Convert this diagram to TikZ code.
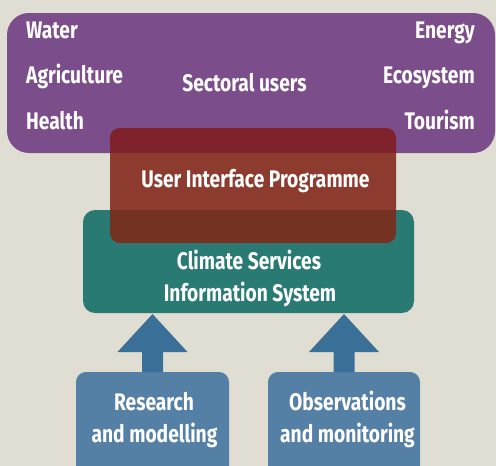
\documentclass[tikz,border=0pt]{standalone}
\usepackage{fontspec}
\setmainfont{Fira Sans}[FakeStretch=0.80]
\usetikzlibrary{calc}
\definecolor{bgc}{HTML}{E0DED3}
\definecolor{purplec}{HTML}{7B4D8A}
\definecolor{redc}{HTML}{8C3B2E}
\definecolor{redtopc}{HTML}{80222C}
\definecolor{redbotc}{HTML}{743222}
\definecolor{tealc}{HTML}{2A7A74}
\definecolor{arrowc}{HTML}{3A6F97}
\definecolor{srcc}{HTML}{5580A6}
\tikzset{
  shapebox/.style={rectangle, draw=none, inner sep=0pt, outer sep=0pt},
  lbl/.style={text=white, inner sep=0pt, font=\bfseries\fontsize{24}{28}\selectfont},
  fatarrow/.style={fill=arrowc, draw=none}
}
\begin{document}
\begin{tikzpicture}[x=1pt,y=-1pt]
\useasboundingbox (0,0) rectangle (496,466);
\clip (0,0) rectangle (496,466);
\fill[bgc] (0,0) rectangle (496,466);

% sectoral users
\node[shapebox, fill=purplec, rounded corners=22pt, minimum width=488pt, minimum height=140pt] (users) at (251,83) {};
% climate services information system
\node[shapebox, fill=tealc, rounded corners=12pt, minimum width=331pt, minimum height=103pt] (csis) at (248.5,261.5) {};
% user interface programme
\node[shapebox, fill=redc, rounded corners=10pt, minimum width=286pt, minimum height=115pt] (uip) at (253,185.5) {};
\begin{scope}
  \clip[rounded corners=10pt] (uip.north west) rectangle (uip.south east);
  \fill[redtopc] (uip.north west) rectangle (users.south -| uip.east);
  \fill[redbotc] (csis.north -| uip.west) rectangle (uip.south east);
\end{scope}

% source boxes
\node[shapebox, fill=srcc, rounded corners=10pt, minimum width=153pt, minimum height=108pt] (research) at (152.5,426) {};
\node[shapebox, fill=srcc, rounded corners=10pt, minimum width=152pt, minimum height=108pt] (obs) at (344,426) {};

% arrows
\fill[fatarrow] let \p1=(research.north), \p2=(csis.south) in
  (\x1-10.5pt,\y1) -- (\x1-10.5pt,\y1+20pt) -- (\x1-35pt,\y1+20pt) -- (\x1,\y2-1pt)
  -- (\x1+35pt,\y1+20pt) -- (\x1+10.5pt,\y1+20pt) -- (\x1+10.5pt,\y1) -- cycle;
\fill[fatarrow] let \p1=(obs.north), \p2=(csis.south) in
  (\x1-10.5pt,\y1) -- (\x1-10.5pt,\y1+20pt) -- (\x1-35pt,\y1+20pt) -- (\x1,\y2-1pt)
  -- (\x1+35pt,\y1+20pt) -- (\x1+10.5pt,\y1+20pt) -- (\x1+10.5pt,\y1) -- cycle;

% texts
\node[lbl, anchor=base west] (water) at (26,38) {Water};
\node[lbl, anchor=base west] (agri) at (26,83) {Agriculture};
\node[lbl, anchor=base west] (health) at (26,129) {Health};
\node[lbl, anchor=base east] (energy) at (475,38) {Energy};
\node[lbl, anchor=base east] (eco) at (475,83) {Ecosystem};
\node[lbl, anchor=base east] (tour) at (475,129) {Tourism};
\node[lbl, anchor=base] (sect) at (244.5,91) {Sectoral users};
\node[lbl, anchor=base] (uiptext) at (255.5,187) {User Interface Programme};
\node[lbl, anchor=base] (cs1) at (249,269) {Climate Services};
\node[lbl, anchor=base] (cs2) at (250,301) {Information System};
\node[lbl, anchor=base] (r1) at (154,410) {Research};
\node[lbl, anchor=base] (r2) at (154.5,442) {and modelling};
\node[lbl, anchor=base] (o1) at (347.5,410) {Observations};
\node[lbl, anchor=base] (o2) at (347.5,442) {and monitoring};
\end{tikzpicture}
\end{document}
